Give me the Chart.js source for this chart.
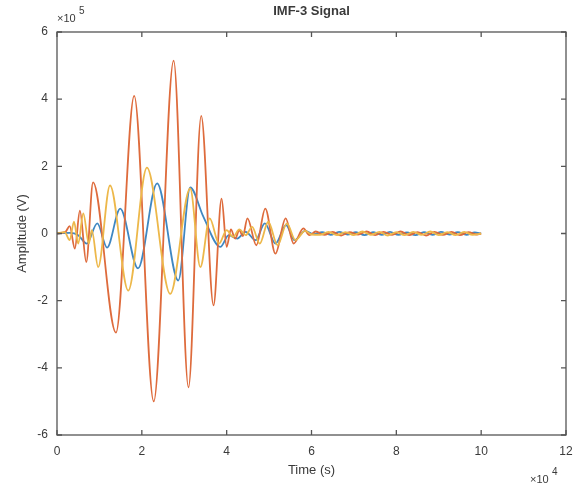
<!DOCTYPE html>
<html>
<head>
<meta charset="utf-8">
<script src="https://cdn.jsdelivr.net/npm/chart.js@4.4.0/dist/chart.umd.min.js"></script>
<style>
  body { margin: 0; background: #fff; }
  #caixa { width: 573px; height: 488px; position: relative; }
</style>
</head>
<body>
<div id="caixa"><canvas id="graficoImf"></canvas></div>
<script>
// tempo em unidades de 1e4 s, amplitude em unidades de 1e5 V
const tempoVermelho = [0, 0.2, 0.3, 0.42, 0.54, 0.69, 0.85, 1.39, 1.82, 2.28, 2.75, 3.10, 3.40, 3.69, 3.88,
  4.0, 4.1, 4.2, 4.3, 4.38, 4.49, 4.70, 4.91, 5.15, 5.39, 5.58, 5.81, 5.95,
  6.1, 6.3, 6.5, 6.7, 6.9, 7.1, 7.3, 7.5, 7.7, 7.9, 8.1, 8.3, 8.5, 8.7, 8.9, 9.1, 9.3, 9.5, 9.7, 9.9, 10]
const ampVermelho = [0, 0.05, 0.22, -0.45, 0.68, -0.85, 1.52, -2.95, 4.1, -5.0, 5.15, -4.58, 3.5, -2.14, 1.04,
  -0.4, 0.12, -0.15, 0.1, -0.08, 0.45, -0.35, 0.74, -0.6, 0.45, -0.3, 0.15, -0.05,
  0.06, -0.04, 0.05, -0.06, 0.04, -0.03, 0.06, -0.05, 0.05, -0.04, 0.06, -0.05, 0.04, -0.06, 0.05, -0.04, 0.05, -0.05, 0.04, -0.03, 0]

const tempoAmarelo = [0, 0.18, 0.3, 0.4, 0.5, 0.62, 0.75, 0.82, 0.97, 1.25, 1.68, 2.12, 2.67, 3.14, 3.38, 3.6, 3.82,
  4.0, 4.15, 4.3, 4.45, 4.6, 4.78, 4.98, 5.2, 5.42, 5.62, 5.85, 6.0,
  6.2, 6.4, 6.6, 6.8, 7.0, 7.2, 7.4, 7.6, 7.8, 8.0, 8.2, 8.4, 8.6, 8.8, 9.0, 9.2, 9.4, 9.6, 9.8, 10]
const ampAmarelo = [0, 0.04, -0.2, 0.35, -0.3, 0.6, -0.3, 0.1, -1.0, 1.43, -1.7, 1.96, -1.8, 1.34, -1.0, 0.45, -0.3,
  0.1, -0.1, 0.12, -0.05, 0.2, -0.3, 0.35, -0.35, 0.3, -0.2, 0.08, -0.03,
  -0.04, 0.05, -0.05, 0.04, -0.05, 0.06, -0.04, 0.05, -0.06, 0.04, -0.05, 0.05, -0.04, 0.06, -0.05, 0.04, -0.05, 0.05, -0.04, 0]

const tempoAzul = [0, 0.3, 0.5, 0.7, 0.95, 1.18, 1.49, 1.91, 2.36, 2.86, 3.14, 3.45, 3.85,
  4.05, 4.25, 4.45, 4.68, 4.9, 5.15, 5.4, 5.6, 5.85, 6.05,
  6.25, 6.45, 6.65, 6.85, 7.05, 7.25, 7.45, 7.65, 7.85, 8.05, 8.25, 8.45, 8.65, 8.85, 9.05, 9.25, 9.45, 9.65, 9.85, 10]
const ampAzul = [0, 0.02, -0.05, -0.3, 0.3, -0.42, 0.74, -1.04, 1.49, -1.4, 1.37, 0.5, -0.4,
  -0.05, -0.15, 0.05, -0.2, 0.3, -0.3, 0.25, -0.2, 0.08, -0.02,
  0.04, -0.04, 0.05, -0.03, 0.04, -0.05, 0.04, -0.04, 0.05, -0.04, 0.03, -0.05, 0.04, -0.04, 0.05, -0.03, 0.04, -0.04, 0.03, 0]

// ticks dos eixos
const ticksTempo = [0, 2, 4, 6, 8, 10, 12]
const ticksAmp = [-6, -4, -2, 0, 2, 4, 6]

const pares = (xs, ys) => xs.map((x, i) => ({ x, y: ys[i] }))

const fonte = '"Liberation Sans", Arial, sans-serif'
const corTexto = '#3a3a3a'

// desenha a moldura fechada, os traços internos e os textos ao redor
const molduraPlugin = {
  id: 'moldura',
  afterDatasetsDraw(chart) {
    const { ctx, chartArea: a, scales: { x, y } } = chart
    ctx.save()
    ctx.strokeStyle = '#555'
    ctx.lineWidth = 1.3
    ctx.strokeRect(a.left, a.top, a.right - a.left, a.bottom - a.top)
    ctx.beginPath()
    ticksTempo.forEach(v => {
      const px = x.getPixelForValue(v)
      ctx.moveTo(px, a.bottom); ctx.lineTo(px, a.bottom - 5)
      ctx.moveTo(px, a.top); ctx.lineTo(px, a.top + 5)
    })
    ticksAmp.forEach(v => {
      const py = y.getPixelForValue(v)
      ctx.moveTo(a.left, py); ctx.lineTo(a.left + 5, py)
      ctx.moveTo(a.right, py); ctx.lineTo(a.right - 5, py)
    })
    ctx.stroke()

    ctx.fillStyle = corTexto
    // título
    ctx.font = 'bold 13px ' + fonte
    ctx.textAlign = 'center'
    ctx.textBaseline = 'middle'
    ctx.fillText('IMF-3 Signal', (a.left + a.right) / 2, 11)

    // títulos dos eixos
    ctx.font = '13px ' + fonte
    ctx.fillText('Time (s)', (a.left + a.right) / 2, 470)
    ctx.save()
    ctx.translate(22, (a.top + a.bottom) / 2)
    ctx.rotate(-Math.PI / 2)
    ctx.fillText('Amplitude (V)', 0, 0)
    ctx.restore()

    // multiplicadores
    ctx.textAlign = 'left'
    ctx.font = '11px ' + fonte
    ctx.fillText('\u00d710', a.left, 19)
    ctx.fillText('\u00d710', 530, 480)
    ctx.font = '10px ' + fonte
    ctx.fillText('5', a.left + 22, 11)
    ctx.fillText('4', 552, 472)
    ctx.restore()
  },
}

const linha = (rotulo, xs, ys, cor, ordem) => ({
  label: rotulo,
  data: pares(xs, ys),
  borderColor: cor,
  borderWidth: 1.8,
  pointRadius: 0,
  fill: false,
  cubicInterpolationMode: 'monotone',
  order: ordem,
})

new Chart(document.getElementById('graficoImf').getContext('2d'), {
  type: 'line',
  data: {
    datasets: [
      linha('IMF-3 (c)', tempoAmarelo, ampAmarelo, '#EDB84A', 1),
      linha('IMF-3 (b)', tempoVermelho, ampVermelho, '#DE6B3C', 2),
      linha('IMF-3 (a)', tempoAzul, ampAzul, '#3F87C2', 3),
    ],
  },
  options: {
    responsive: true,
    maintainAspectRatio: false,
    animation: false,
    layout: { padding: { top: 32, right: 7, left: 0, bottom: 0 } },
    plugins: {
      legend: { display: false },
      tooltip: { enabled: false },
    },
    scales: {
      x: {
        type: 'linear',
        min: 0,
        max: 12,
        grid: { display: false, drawTicks: false },
        border: { display: false },
        afterBuildTicks: s => { s.ticks = ticksTempo.map(v => ({ value: v })) },
        afterFit: s => { s.height = 53; s.paddingLeft = 0; s.paddingRight = 0 },
        ticks: { color: corTexto, font: { family: fonte, size: 12 }, padding: 9, maxRotation: 0 },
      },
      y: {
        min: -6,
        max: 6,
        grid: { display: false, drawTicks: false },
        border: { display: false },
        afterBuildTicks: s => { s.ticks = ticksAmp.map(v => ({ value: v })) },
        afterFit: s => { s.width = 57; s.paddingTop = 0; s.paddingBottom = 0 },
        ticks: { color: corTexto, font: { family: fonte, size: 12 }, padding: 9 },
      },
    },
  },
  plugins: [molduraPlugin],
})
</script>
</body>
</html>
